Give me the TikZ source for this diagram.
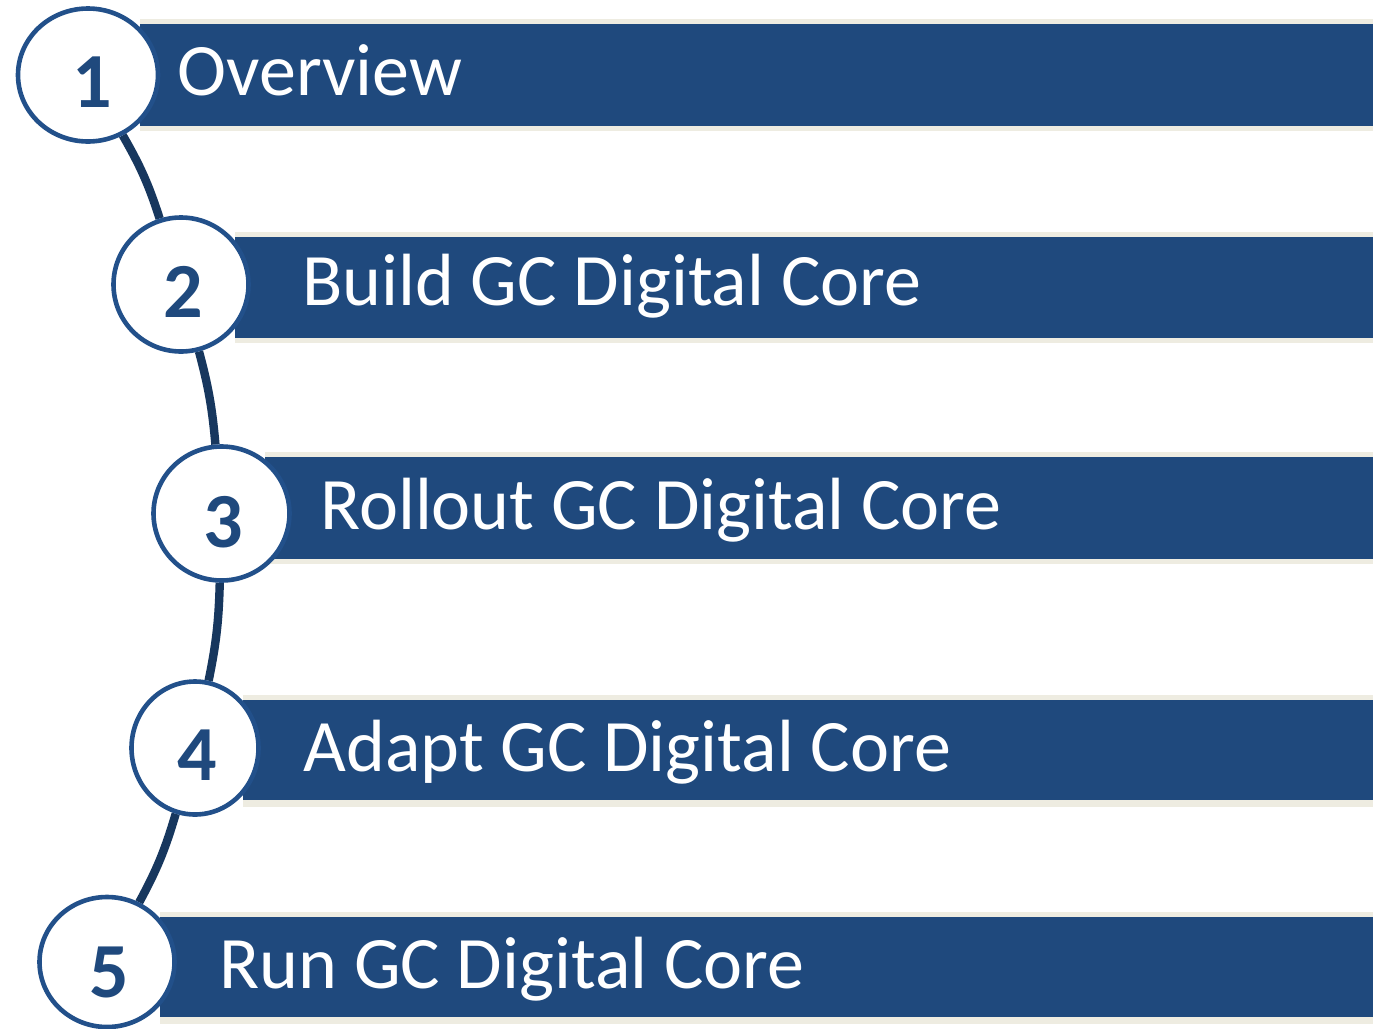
\documentclass[tikz,border=0pt]{standalone}
\usepackage{fontspec}
\setmainfont{Carlito}
\usetikzlibrary{shapes.geometric,backgrounds}
\definecolor{barblue}{HTML}{1F497D}
\definecolor{ringblue}{HTML}{22508A}
\definecolor{linkblue}{HTML}{17375E}
\definecolor{tan}{HTML}{EEECE1}
\begin{document}
\begin{tikzpicture}[x=0.5pt,y=-0.5pt,
  stepring/.style={ellipse, draw=ringblue, line width=2.3pt, fill=white, inner sep=0pt},
  stepnum/.style={anchor=base, text=barblue, font=\fontsize{39}{39}\selectfont\bfseries, inner sep=0pt},
  steptext/.style={anchor=base west, text=white, font=\fontsize{37}{37}\selectfont, inner sep=0pt},
  stepbar/.style={fill=barblue, inner sep=0pt, outer sep=0pt},
  link/.style={draw=linkblue, line width=4.2pt}]
\useasboundingbox (0,0) rectangle (1373,1029);

% bars: tan outer strip with the blue band inside
\foreach \n/\xs/\bt/\tt/\tb/\bb in {1/140/19/24/126/131, 2/235/232/237/338/343, 3/265/452/457/559/564, 4/243/695/700/800/807, 5/160/912/917/1017/1024}{
  \fill[tan] (\xs,\bt) rectangle (1373,\bb);
  \path[stepbar] (\xs,\tt) rectangle (1373,\tb) coordinate (bar\n);
}

% bar titles
\node[steptext] (t1) at (177,95) {Overview};
\node[steptext] (t2) at (302,305) {Build GC Digital Core};
\node[steptext] (t3) at (320,529) {Rollout GC Digital Core};
\node[steptext] (t4) at (303,771) {Adapt GC Digital Core};
\node[steptext] (t5) at (219,988) {Run GC Digital Core};

% numbered rings (sizes in pt, half the pixel size)
\node[stepring, minimum width=70pt, minimum height=66.5pt] (c1) at (88,75) {};
\node[stepring, minimum width=67.5pt, minimum height=67pt] (c2) at (181,284.5) {};
\node[stepring, minimum width=68pt, minimum height=67pt] (c3) at (221.5,513.5) {};
\node[stepring, minimum width=63.5pt, minimum height=66.5pt] (c4) at (195,748) {};
\node[stepring, minimum width=67.5pt, minimum height=65pt] (c5) at (107,962) {};

\node[stepnum] (n1) at (92,107) {1};
\node[stepnum] (n2) at (183,317) {2};
\node[stepnum] (n3) at (223,547) {3};
\node[stepnum] (n4) at (197,780) {4};
\node[stepnum] (n5) at (109,997) {5};

% white page, then the links between the rings, all behind the rings
\begin{scope}[on background layer]
  \fill[white] (0,0) rectangle (1373,1029);
  \draw[link] (c1) to[bend left=6] (c2);
  \draw[link] (c2) to[bend left=5] (c3);
  \draw[link] (c3) to[bend left=5] (c4);
  \draw[link] (c4) to[bend left=6] (c5);
\end{scope}
\end{tikzpicture}
\end{document}
